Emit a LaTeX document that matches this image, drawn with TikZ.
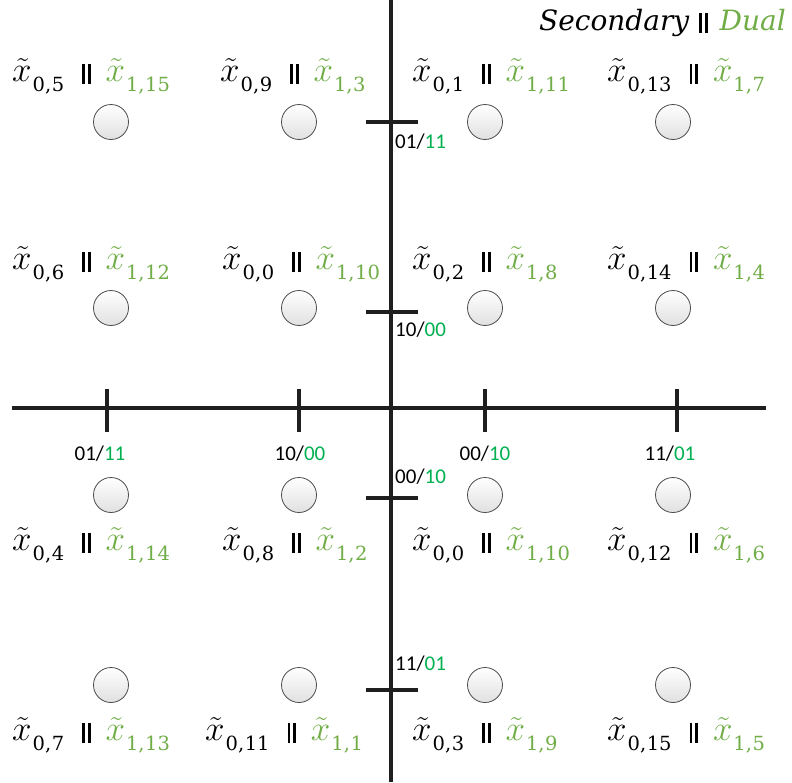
\RequirePackage{fix-cm}
\documentclass[tikz,border=0pt]{standalone}
\usepackage{fontspec}
\newfontfamily\tickfont{Carlito}
\newfontfamily\subfont{DejaVu Serif}
\newfontfamily\legfont{DejaVu Serif}
\definecolor{dualgreen}{HTML}{70AD47}
\definecolor{tickgreen}{HTML}{00B050}
\newcommand{\xsub}[2]{\scalebox{1.75}{$\tilde{x}$}\hspace{1pt}\raisebox{-10pt}{\subfont\fontsize{19.5}{19.5}\selectfont #1,\hspace{0.5pt}#2}}
\newcommand{\bars}{\raisebox{-3pt}{\rule{2.7pt}{20pt}\hspace{3pt}\rule{2.7pt}{20pt}}}
\newcommand{\lab}[4]{\xsub{#1}{#2}\hspace{18pt}\bars\hspace{15pt}{\color{dualgreen}\xsub{#3}{#4}}}
\newcommand{\tlab}[2]{{\tickfont #1/\textcolor{tickgreen}{#2}}}
\begin{document}
\begin{tikzpicture}[x=1pt,y=-1pt,
  axis/.style={line width=3.4pt,black!88},
  tickmark/.style={line width=3.4pt,black!88},
  dot/.style={circle,minimum size=35pt,inner sep=0pt,draw=black!70,line width=0.8pt,top color=white,bottom color=black!12},
  mlab/.style={font=\fontsize{20}{24}\selectfont,inner sep=0pt,anchor=base west},
  tl/.style={font=\fontsize{21}{24}\selectfont,inner sep=0pt}]
\useasboundingbox (0,0) rectangle (792,782);
% axes
\coordinate (hL) at (12,408);
\coordinate (hR) at (766,408);
\coordinate (vT) at (391,0);
\coordinate (vB) at (391,782);
\draw[axis] (hL) -- (hR);
\draw[axis] (vT) -- (vB);
% horizontal ticks
\foreach \i/\x in {1/107,2/299,3/485,4/677}{
  \coordinate (ht\i a) at (\x,389);
  \coordinate (ht\i b) at (\x,432);
  \draw[tickmark] (ht\i a) -- (ht\i b);
}
% vertical ticks
\foreach \i/\y in {1/122,2/312,3/498,4/690}{
  \coordinate (vt\i a) at (366,\y);
  \coordinate (vt\i b) at (418,\y);
  \draw[tickmark] (vt\i a) -- (vt\i b);
}
% tick labels
\node[tl] (hl1) at (100,454) {\tlab{01}{11}};
\node[tl] (hl2) at (300,454) {\tlab{10}{00}};
\node[tl] (hl3) at (485,454) {\tlab{00}{10}};
\node[tl] (hl4) at (670,454) {\tlab{11}{01}};
\node[tl,anchor=west] (vl1) at (395,142) {\tlab{01}{11}};
\node[tl,anchor=west] (vl2) at (395,330) {\tlab{10}{00}};
\node[tl,anchor=west] (vl3) at (395,477) {\tlab{00}{10}};
\node[tl,anchor=west] (vl4) at (395,664) {\tlab{11}{01}};
% circles
\foreach \r/\y in {1/122,2/308,3/495,4/685}{
  \foreach \c/\x in {1/111,2/299,3/485,4/673}{
    \node[dot] (d\r\c) at (\x,\y) {};
  }
}
% labels
\node[mlab] (l11) at (12,81) {\lab{0}{5}{1}{15}};
\node[mlab] (l12) at (220,81) {\lab{0}{9}{1}{3}};
\node[mlab] (l13) at (412,81) {\lab{0}{1}{1}{11}};
\node[mlab] (l14) at (607,81) {\lab{0}{13}{1}{7}};
\node[mlab] (l21) at (12,269) {\lab{0}{6}{1}{12}};
\node[mlab] (l22) at (222,269) {\lab{0}{0}{1}{10}};
\node[mlab] (l23) at (412,269) {\lab{0}{2}{1}{8}};
\node[mlab] (l24) at (607,269) {\lab{0}{14}{1}{4}};
\node[mlab] (l31) at (12,550) {\lab{0}{4}{1}{14}};
\node[mlab] (l32) at (222,550) {\lab{0}{8}{1}{2}};
\node[mlab] (l33) at (412,550) {\lab{0}{0}{1}{10}};
\node[mlab] (l34) at (607,550) {\lab{0}{12}{1}{6}};
\node[mlab] (l41) at (12,740) {\lab{0}{7}{1}{13}};
\node[mlab] (l42) at (205,740) {\lab{0}{11}{1}{1}};
\node[mlab] (l43) at (412,740) {\lab{0}{3}{1}{9}};
\node[mlab] (l44) at (607,740) {\lab{0}{15}{1}{5}};
% legend
\node[inner sep=0pt,anchor=base east,font=\legfont\itshape\fontsize{28}{32}\selectfont] (leg) at (786,30) {Secondary\hspace{10pt}{\upshape\bars}\hspace{12pt}\textcolor{dualgreen}{Dual}};
\end{tikzpicture}
\end{document}
